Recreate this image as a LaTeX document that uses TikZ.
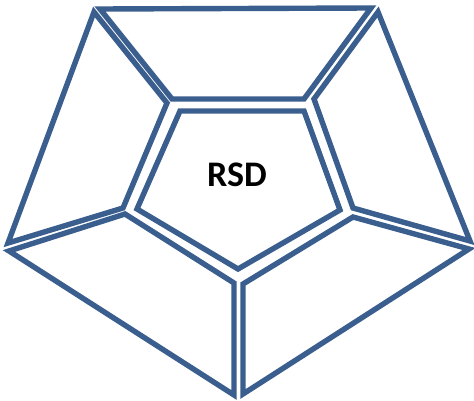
\documentclass[tikz,border=0pt]{standalone}
\usepackage{fontspec}
\setmainfont{Carlito}
\definecolor{segblue}{HTML}{3A5F8E}
\begin{document}
\begin{tikzpicture}[x=1pt,y=-1pt,
  seg/.style={draw=segblue,line width=5.4pt,line join=miter}]
\useasboundingbox (0,0) rectangle (474,401);
% central pentagon
\draw[seg] (180,111) -- (304,111) -- (340,210) -- (238,269) -- (137,209) -- cycle;
% top
\draw[seg] (100,9) -- (371,8) -- (304,99) -- (172,99) -- cycle;
% upper left
\draw[seg] (94,12) -- (167,103) -- (123,208) -- (8,243) -- cycle;
% lower left
\draw[seg] (9,251) -- (125,214) -- (234,283) -- (234,395) -- cycle;
% lower right
\draw[seg] (243,284) -- (353,217) -- (469,249) -- (243,394) -- cycle;
% upper right
\draw[seg] (378,12) -- (470,241) -- (353,208) -- (314,99) -- cycle;
\node[font=\bfseries\fontsize{36}{42}\selectfont] (lbl) at (237,175) {RSD};
\end{tikzpicture}
\end{document}
